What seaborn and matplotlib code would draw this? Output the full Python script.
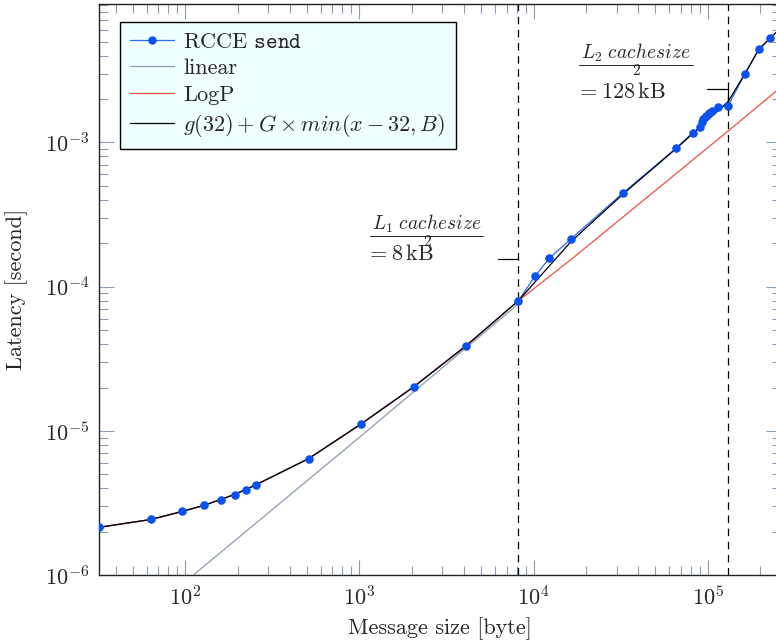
import matplotlib
matplotlib.use("Agg")
import numpy as np
import pandas as pd
import seaborn as sns
import matplotlib.pyplot as plt
from matplotlib.lines import Line2D
from matplotlib.ticker import LogLocator, NullFormatter

# ---------------- data ----------------
sizes = [32, 64, 96, 128, 160, 192, 224, 256, 512, 1024, 2048, 4096, 8192,
         10240, 12288, 16384, 32768, 65536, 81920, 90112, 92160, 94208,
         98304, 102400, 106496, 114688, 131072, 163840, 196608, 229376]
latency = [2.15e-6, 2.44e-6, 2.77e-6, 3.05e-6, 3.35e-6, 3.63e-6, 3.93e-6,
           4.25e-6, 6.44e-6, 1.12e-5, 2.02e-5, 3.89e-5, 8.0e-5,
           1.19e-4, 1.57e-4, 2.14e-4, 4.48e-4, 9.08e-4, 1.165e-3, 1.27e-3,
           1.38e-3, 1.46e-3, 1.53e-3, 1.59e-3, 1.64e-3, 1.75e-3, 1.80e-3,
           3.0e-3, 4.43e-3, 5.31e-3]

linear_x = [111, 1024, 8192]
linear_y = [1.0e-6, 9.25e-6, 7.6e-5]

logp_x = [32, 64, 96, 128, 192, 256, 512, 1024, 2048, 4096, 8192,
          16384, 32768, 65536, 131072, 262144]
logp_y = [2.15e-6, 2.44e-6, 2.77e-6, 3.05e-6, 3.63e-6, 4.25e-6, 6.44e-6,
          1.12e-5, 2.02e-5, 3.89e-5, 8.0e-5,
          1.54e-4, 3.05e-4, 6.05e-4, 1.2e-3, 2.4e-3]

model_x = [32, 64, 96, 128, 192, 256, 512, 1024, 2048, 4096, 8192,
           16384, 32768, 65536, 131072, 163840, 196608, 229376, 262144]
model_y = [2.15e-6, 2.44e-6, 2.77e-6, 3.05e-6, 3.63e-6, 4.25e-6, 6.44e-6,
           1.12e-5, 2.02e-5, 3.89e-5, 8.0e-5,
           2.05e-4, 4.4e-4, 9.0e-4, 1.92e-3, 3.0e-3, 4.4e-3, 5.3e-3, 6.2e-3]

cache_lines = [8192, 131072]
labels = [r"RCCE $\mathtt{send}$", "linear", "LogP",
          r"$g(32) + G \times min(x - 32, B)$"]

# ---------------- style ----------------
sns.set_theme(style="white")
plt.rcParams.update({
    "font.family": ["cmr10", "DejaVu Serif"],
    "mathtext.fontset": "cm",
    "axes.formatter.use_mathtext": True,
    "axes.unicode_minus": False,
})

W, H = 776, 641
fig = plt.figure(figsize=(W / 100, H / 100), dpi=100)
x0, x1, ytop, ybot = 99, 780.6, 4, 575.3
ax = fig.add_axes([x0 / W, (H - ybot) / H, (x1 - x0) / W, (ybot - ytop) / H])
ax.set_xscale("log")
ax.set_yscale("log")

blue_line = "#2a68ff"
blue_mark = "#0a52f0"
gray = "#8c9ab4"
red = "#f0503c"

df = pd.DataFrame({"size": sizes, "lat": latency})
sns.lineplot(data=df, x="size", y="lat", ax=ax, color=blue_line, lw=0.9,
             sort=False, estimator=None, zorder=2)
sns.lineplot(x=linear_x, y=linear_y, ax=ax, color=gray, lw=0.9,
             sort=False, estimator=None, zorder=3)
sns.lineplot(x=logp_x, y=logp_y, ax=ax, color=red, lw=0.9,
             sort=False, estimator=None, zorder=4)
sns.lineplot(x=model_x, y=model_y, ax=ax, color="black", lw=0.9,
             sort=False, estimator=None, zorder=5)
sns.scatterplot(data=df, x="size", y="lat", ax=ax, color=blue_mark, s=38,
                edgecolor=blue_mark, linewidth=0, zorder=6)

for cx in cache_lines:
    ax.axvline(cx, color="black", lw=0.9, ls=(0, (6, 4.5)), zorder=1)

ax.set_xlim(32, 262144)
ax.set_ylim(1e-6, 9.1e-3)

ax.xaxis.set_major_locator(LogLocator(base=10, numticks=12))
ax.xaxis.set_minor_locator(LogLocator(base=10, subs=np.arange(2, 10), numticks=12))
ax.yaxis.set_major_locator(LogLocator(base=10, numticks=12))
ax.yaxis.set_minor_locator(LogLocator(base=10, subs=np.arange(2, 10), numticks=12))
ax.xaxis.set_minor_formatter(NullFormatter())
ax.yaxis.set_minor_formatter(NullFormatter())
ax.tick_params(which="both", direction="in", bottom=True, left=True,
               top=True, right=True, color=gray, width=0.8)
ax.tick_params(which="major", length=11, labelsize=16, pad=7)
ax.tick_params(which="minor", length=6.5)

for sp in ax.spines.values():
    sp.set_color("#222222")
    sp.set_linewidth(1.0)

ax.set_xlabel("Message size [byte]", fontsize=16)
ax.set_ylabel("Latency [second]", fontsize=16)
ax.xaxis.set_label_coords(0.5, (ybot - 617) / (ybot - ytop))
ax.xaxis.label.set_va("top")
ax.yaxis.set_label_coords((28 - x0) / (x1 - x0), 0.5)

# legend
handles = [Line2D([], [], color=blue_line, lw=0.9, marker="o", ms=5,
                  markerfacecolor=blue_mark, markeredgecolor=blue_mark),
           Line2D([], [], color=gray, lw=0.9),
           Line2D([], [], color=red, lw=0.9),
           Line2D([], [], color="black", lw=0.9)]
leg = ax.legend(handles, labels, loc="upper left",
                bbox_to_anchor=((120 - x0) / (x1 - x0), (ybot - 22) / (ybot - ytop)),
                borderaxespad=0, fontsize=16, frameon=True, fancybox=False,
                edgecolor="black", facecolor="#efffff", framealpha=1,
                handlelength=2.0, handletextpad=0.4, labelspacing=0.32,
                borderpad=0.45)
leg.get_frame().set_linewidth(1.0)

# annotations (pixel placement helper)
def P(x, y):
    return x / W, 1 - y / H

def note(cx, ynum, ybar, xl, xr, y2, eqx, eqy, sub, eqtext):
    fig.text(*P(cx, ynum), r"$L_%s\ cachesize$" % sub, fontsize=14,
             ha="center", va="baseline")
    fig.add_artist(Line2D([xl / W, xr / W], [1 - ybar / H, 1 - ybar / H],
                          color="black", lw=0.6))
    fig.text(*P(cx, y2), "2", fontsize=11, ha="center", va="baseline")
    fig.text(*P(eqx, eqy), eqtext, fontsize=16, ha="left", va="baseline")

note(427, 230, 236, 370, 483, 246, 366, 260, "1", r"$=8\,\mathrm{kB}$")
note(636, 59, 65, 579, 693, 75, 576, 98, "2", r"$=128\,\mathrm{kB}$")

# pins
ax.plot([6270, 8192], [1.556e-4, 1.556e-4], color="black", lw=0.9, zorder=5)
ax.plot([98600, 131072, 131072], [2.33e-3, 2.33e-3, 1.92e-3],
        color="black", lw=0.9, zorder=5)

fig.savefig("out.png", dpi=100)
